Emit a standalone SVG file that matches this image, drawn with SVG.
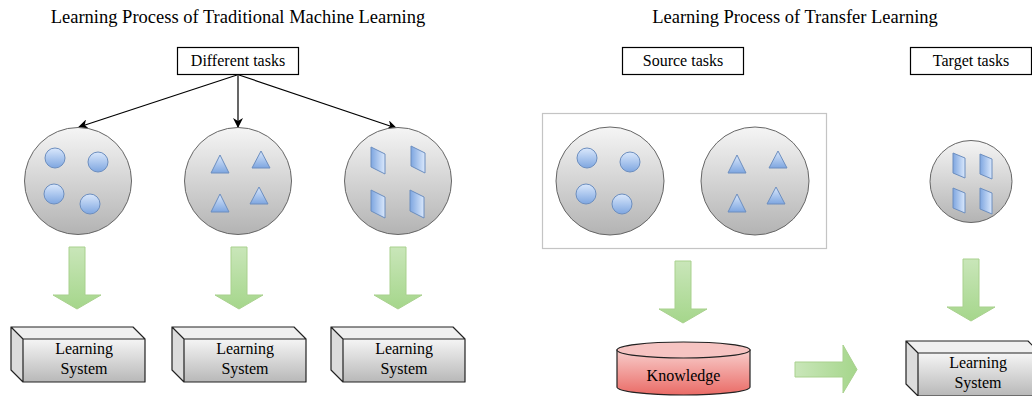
<svg xmlns="http://www.w3.org/2000/svg" width="1032" height="396" viewBox="0 0 1032 396">
<defs>
<linearGradient id="gCirc" x1="0" y1="0" x2="0" y2="1"><stop offset="0" stop-color="#f5f5f5"/><stop offset="1" stop-color="#b3b3b3"/></linearGradient>
<linearGradient id="gBlue" x1="0" y1="0" x2="0" y2="1"><stop offset="0" stop-color="#dae8fc"/><stop offset="1" stop-color="#7ea6e0"/></linearGradient>
<linearGradient id="gBlueH" x1="0" y1="0" x2="1" y2="0"><stop offset="0" stop-color="#7ea6e0"/><stop offset="1" stop-color="#dae8fc"/></linearGradient>
<linearGradient id="gGreen" x1="0" y1="0" x2="0" y2="1"><stop offset="0" stop-color="#c9e6b9"/><stop offset="1" stop-color="#a5d68b"/></linearGradient>
<linearGradient id="gGreenH" x1="0" y1="0" x2="1" y2="0"><stop offset="0" stop-color="#c9e6b9"/><stop offset="1" stop-color="#a5d68b"/></linearGradient>
<linearGradient id="gBox" x1="0" y1="0" x2="0" y2="1"><stop offset="0" stop-color="#f5f5f5"/><stop offset="1" stop-color="#b8b8b8"/></linearGradient>
<linearGradient id="gRed" x1="0" y1="0" x2="0" y2="1"><stop offset="0" stop-color="#f8cecc"/><stop offset="1" stop-color="#ea6b66"/></linearGradient>
<marker id="arr" viewBox="0 0 10 10" refX="9" refY="5" markerWidth="10" markerHeight="10" markerUnits="userSpaceOnUse" orient="auto"><path d="M0,0 L10,5 L0,10 L3,5 Z" fill="#000"/></marker>
<g id="blueCircles"><circle cx="-23" cy="-23" r="10"/><circle cx="20" cy="-19" r="10"/><circle cx="-24" cy="13" r="10"/><circle cx="12" cy="23" r="10"/></g>
<g id="blueTris"><path d="M-18,-26 L-27,-8 L-9,-8 Z"/><path d="M23,-30 L14,-13 L32,-13 Z"/><path d="M-18,13 L-27,31 L-9,31 Z"/><path d="M21,6 L12,23 L30,23 Z"/></g>
<g id="boxShape"><path d="M0,0 L122,0 L134,12 L12,12 Z" fill="#f0f0f0"/><path d="M0,0 L12,12 L12,55 L0,43 Z" fill="#dcdcdc"/><rect x="12" y="12" width="122" height="43" fill="url(#gBox)"/><path d="M0,0 L122,0 L134,12 L12,12 Z M0,0 L12,12 L12,55 L0,43 Z M12,12 H134 V55 H12 Z" fill="none" stroke="#222" stroke-width="1.2" stroke-linejoin="round"/></g>
<path id="downArrow" d="M-8,0 H8 V48 H24 L0,62 L-24,48 H-8 Z"/>
</defs>
<style>
text{font-family:"Liberation Serif","Times New Roman",serif;fill:#000;text-anchor:middle}
.title{font-size:18.5px}
.lbl{font-size:16px}
.sys{font-size:16px}
.task{fill:#fff;stroke:#000;stroke-width:1.2}
.big{fill:url(#gCirc);stroke:#666;stroke-width:1}
.sm{fill:url(#gBlue);stroke:#6c8ebf;stroke-width:1}
.para{fill:url(#gBlueH);stroke:#6c8ebf;stroke-width:1}
.green{fill:url(#gGreen);stroke:#a9d18e;stroke-width:1}
.conn{stroke:#000;stroke-width:1.2;fill:none}
</style>
<rect width="1032" height="396" fill="#fff"/>
<text class="title" x="238" y="23">Learning Process of Traditional Machine Learning</text>
<text class="title" x="795" y="23">Learning Process of Transfer Learning</text>

<g id="different-tasks"><rect class="task" x="177.5" y="47.5" width="121" height="27"/><text class="lbl" x="238" y="66">Different tasks</text></g>

<g id="connectors">
<path class="conn" d="M237,75 L79,127" marker-end="url(#arr)"/>
<path class="conn" d="M238,75 L238,127" marker-end="url(#arr)"/>
<path class="conn" d="M239,75 L396,128" marker-end="url(#arr)"/>
<use href="#downArrow" class="green" x="77" y="247"/>
<use href="#downArrow" class="green" x="239" y="247"/>
<use href="#downArrow" class="green" x="398" y="247"/>
<use href="#downArrow" class="green" x="683" y="261"/>
<use href="#downArrow" class="green" x="971" y="259"/>
<path d="M795,362 H843 V345 L857,369.5 L843,393 V377 H795 Z" fill="url(#gGreenH)" stroke="#a9d18e" stroke-width="1"/>
</g>

<g id="circles-task1"><circle class="big" cx="78" cy="181" r="53.5"/><use href="#blueCircles" class="sm" x="78" y="181"/></g>
<g id="triangles-task2"><circle class="big" cx="238" cy="181" r="53.5"/><use href="#blueTris" class="sm" x="238" y="181"/></g>
<g id="parallelograms-task3"><circle class="big" cx="398" cy="181" r="53.5"/>
<path class="para" d="M371,147 L385,154 L385,174 L371,167 Z"/>
<path class="para" d="M411,146 L425,153 L425,173 L411,166 Z"/>
<path class="para" d="M371,190 L385,197 L385,218 L371,211 Z"/>
<path class="para" d="M410,190 L424,197 L424,218 L410,211 Z"/>
</g>

<g id="ls1"><use href="#boxShape" x="11" y="327"/><text class="sys" x="84" y="354">Learning</text><text class="sys" x="84" y="374">System</text></g>
<g id="ls2"><use href="#boxShape" x="172" y="327"/><text class="sys" x="245" y="354">Learning</text><text class="sys" x="245" y="374">System</text></g>
<g id="ls3"><use href="#boxShape" x="331" y="327"/><text class="sys" x="404" y="354">Learning</text><text class="sys" x="404" y="374">System</text></g>

<g id="source-tasks"><rect class="task" x="622.5" y="47.5" width="121" height="27"/><text class="lbl" x="683" y="66">Source tasks</text></g>
<g id="source-container"><rect x="542.5" y="113.5" width="284" height="135" fill="none" stroke="#c4c4c4" stroke-width="1.2"/></g>
<g id="source-circles"><circle class="big" cx="610" cy="181" r="54"/><use href="#blueCircles" class="sm" x="610" y="181"/></g>
<g id="source-triangles"><circle class="big" cx="755" cy="181" r="54"/><use href="#blueTris" class="sm" x="755" y="181"/></g>

<g id="target-tasks"><rect class="task" x="910.5" y="47.5" width="121" height="27"/><text class="lbl" x="971" y="66">Target tasks</text></g>
<g id="target-circle"><circle class="big" cx="971" cy="181.5" r="41"/>
<path class="para" d="M953,153 L965,158 L965,178 L953,173 Z"/>
<path class="para" d="M980,154 L992,159 L992,179 L980,174 Z"/>
<path class="para" d="M953,188 L965,193 L965,213 L953,208 Z"/>
<path class="para" d="M980,188 L992,193 L992,214 L980,209 Z"/>
</g>

<g id="knowledge"><path d="M617,350 V387 A66.5,8 0 0 0 750,387 V350 Z" fill="url(#gRed)" stroke="#222" stroke-width="1.2"/><ellipse cx="683.5" cy="350" rx="66.5" ry="8" fill="#f6c4c2" stroke="#222" stroke-width="1.2"/><text class="sys" x="683.5" y="381">Knowledge</text></g>

<g id="ls-target"><use href="#boxShape" x="906" y="341"/><text class="sys" x="978" y="368">Learning</text><text class="sys" x="978" y="388">System</text></g>
</svg>
